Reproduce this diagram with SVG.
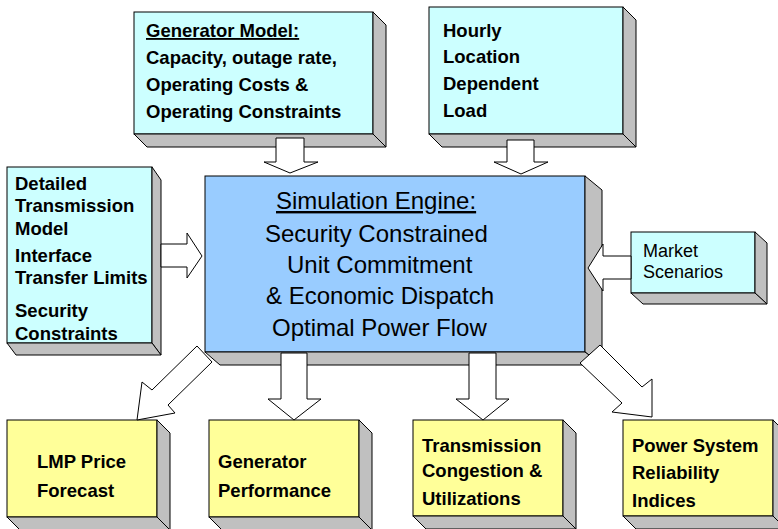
<svg xmlns="http://www.w3.org/2000/svg" width="778" height="529" viewBox="0 0 778 529">
<style>
.front{stroke:#000;stroke-width:1}
.cyan{fill:#CCFFFF}
.blue{fill:#99CCFF}
.yel{fill:#FFFF99}
.side{fill:#C0C0C0;stroke:#000;stroke-width:1;stroke-linejoin:round}
.arr{fill:#FFFFFF;stroke:#000;stroke-width:1;stroke-linejoin:miter}
.b{font-family:"Liberation Sans",Arial,sans-serif;font-weight:bold;font-size:18.5px;fill:#000}
.r{font-family:"Liberation Sans",Arial,sans-serif;font-size:18px;fill:#000}
.sim{font-family:"Liberation Sans",Arial,sans-serif;font-size:24px;fill:#000}
</style>
<rect width="778" height="529" fill="#FFFFFF"/>

<g id="generator-model">
<rect class="front cyan" x="134" y="12" width="239" height="122"/>
<polygon class="side" points="373,12 386,25 386,147 373,134"/>
<polygon class="side" points="134,134 373,134 386,147 147,147"/>
<text class="b" x="146" y="37" text-decoration="underline">Generator Model:</text>
<text class="b" x="146" y="64">Capacity, outage rate,</text>
<text class="b" x="146" y="91">Operating Costs &amp;</text>
<text class="b" x="146" y="118">Operating Constraints</text>
</g>

<g id="hourly-load">
<rect class="front cyan" x="429" y="7" width="194" height="127"/>
<polygon class="side" points="623,7 636,20 636,147 623,134"/>
<polygon class="side" points="429,134 623,134 636,147 442,147"/>
<text class="b" x="443" y="37">Hourly</text>
<text class="b" x="443" y="63">Location</text>
<text class="b" x="443" y="90">Dependent</text>
<text class="b" x="443" y="117">Load</text>
</g>

<g id="transmission-model">
<rect class="front cyan" x="7" y="167" width="145" height="176"/>
<polygon class="side" points="152,167 161,180 161,355 152,343"/>
<polygon class="side" points="7,343 152,343 161,355 16,355"/>
<text class="b" x="15" y="190">Detailed</text>
<text class="b" x="15" y="212">Transmission</text>
<text class="b" x="15" y="235">Model</text>
<text class="b" x="15" y="262">Interface</text>
<text class="b" x="15" y="284">Transfer Limits</text>
<text class="b" x="15" y="317">Security</text>
<text class="b" x="15" y="340">Constraints</text>
</g>

<g id="market-scenarios">
<rect class="front cyan" x="631" y="232" width="124" height="61"/>
<polygon class="side" points="755,232 767,243 767,304 755,293"/>
<polygon class="side" points="631,293 755,293 767,304 643,304"/>
<text class="r" x="643" y="257">Market</text>
<text class="r" x="643" y="278">Scenarios</text>
</g>

<g id="simulation-engine">
<rect class="front blue" x="205" y="176" width="380" height="176"/>
<polygon class="side" points="585,176 602,190 602,365 585,352"/>
<polygon class="side" points="205,352 585,352 602,365 220,365"/>
<text class="sim" x="276" y="209" text-decoration="underline">Simulation Engine:</text>
<text class="sim" x="265" y="242">Security Constrained</text>
<text class="sim" x="287" y="273">Unit Commitment</text>
<text class="sim" x="266" y="304">&amp; Economic Dispatch</text>
<text class="sim" x="272" y="336">Optimal Power Flow</text>
</g>

<g id="lmp-forecast">
<rect class="front yel" x="7" y="420" width="150" height="97"/>
<polygon class="side" points="157,420 170,433 170,530 157,517"/>
<polygon class="side" points="7,517 157,517 170,530 20,530"/>
<text class="b" x="37" y="468">LMP Price</text>
<text class="b" x="37" y="497">Forecast</text>
</g>

<g id="generator-performance">
<rect class="front yel" x="209" y="420" width="150" height="97"/>
<polygon class="side" points="359,420 372,433 372,530 359,517"/>
<polygon class="side" points="209,517 359,517 372,530 222,530"/>
<text class="b" x="218" y="468">Generator</text>
<text class="b" x="218" y="497">Performance</text>
</g>

<g id="transmission-congestion">
<rect class="front yel" x="413" y="420" width="150" height="96"/>
<polygon class="side" points="563,420 576,433 576,529 563,516"/>
<polygon class="side" points="413,516 563,516 576,529 426,529"/>
<text class="b" x="422" y="452">Transmission</text>
<text class="b" x="422" y="477">Congestion &amp;</text>
<text class="b" x="422" y="505">Utilizations</text>
</g>

<g id="reliability-indices">
<rect class="front yel" x="623" y="420" width="150" height="96"/>
<polygon class="side" points="773,420 786,433 786,529 773,516"/>
<polygon class="side" points="623,516 773,516 786,529 636,529"/>
<text class="b" x="632" y="452">Power System</text>
<text class="b" x="632" y="479">Reliability</text>
<text class="b" x="632" y="507">Indices</text>
</g>

<g id="connectors">
<polygon class="arr" points="276,138 304,138 304,162 318,162 290,173 264,162 276,162"/>
<polygon class="arr" points="507,140 534,140 534,162 548,162 521,174 494,162 507,162"/>
<polygon class="arr" points="161,244 187,244 187,233 202,256 187,278 187,267 161,267"/>
<polygon class="arr" points="631,256 603,256 603,244 588,268 603,291 603,279 631,279"/>
<polygon class="arr" points="281,353 307,353 307,399 321,399 294,420 268,399 281,399"/>
<polygon class="arr" points="469,353 496,353 496,399 509,399 483,420 456,399 469,399"/>
<polygon class="arr" points="197,346 212,362 168,405 175,413 137,420 142,382 152,390"/>
<polygon class="arr" points="600,345 642,387 652,379 652,417 612,412 622,403 580,363"/>
</g>
</svg>
